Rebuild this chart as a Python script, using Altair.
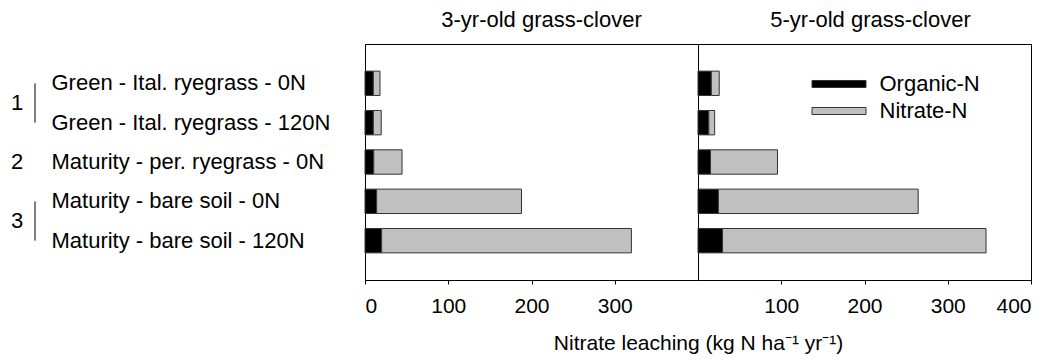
import altair as alt
import pandas as pd

treatments = [
    "Green - Ital. ryegrass - 0N",
    "Green - Ital. ryegrass - 120N",
    "Maturity - per. ryegrass - 0N",
    "Maturity - bare soil - 0N",
    "Maturity - bare soil - 120N",
]
organic_3yr = [10, 10, 10.5, 14, 20]
nitrate_3yr = [8, 9.5, 34, 174, 300]
organic_5yr = [16, 13, 15, 24.5, 29.5]
nitrate_5yr = [9.5, 7, 80.5, 240, 316.5]
components = ["Organic-N", "Nitrate-N"]
colors = ["#000000", "#c0c0c0"]
panel_titles = ["3-yr-old grass-clover", "5-yr-old grass-clover"]
group_labels = ["1", "2", "3"]
group_first = [treatments[0], treatments[2], treatments[3]]
group_last = [treatments[1], treatments[2], treatments[4]]
group_span = [True, False, True]
left_ticks = [0, 100, 200, 300]
right_ticks = [100, 200, 300, 400]
x_title = "Nitrate leaching (kg N ha\u207b\u00b9 yr\u207b\u00b9)"

FONT = "Liberation Sans"
W, H = 333, 236


def make_df(org, nit):
    rows = []
    for t, o, n in zip(treatments, org, nit):
        rows.append({"treatment": t, "component": components[0], "value": o, "ord": 0})
        rows.append({"treatment": t, "component": components[1], "value": n, "ord": 1})
    return pd.DataFrame(rows)


df3 = make_df(organic_3yr, nitrate_3yr)
df5 = make_df(organic_5yr, nitrate_5yr)
gdf = pd.DataFrame({"g": group_labels, "first": group_first, "last": group_last, "span": group_span})

yscale = alt.Scale(domain=treatments, paddingInner=0.38, paddingOuter=0.69)
xscale = alt.Scale(domain=[0, 400], nice=False, zero=True)

legend = alt.Legend(
    title=None, orient="none", legendX=460, legendY=26,
    symbolType="M-2,-0.26L2,-0.26L2,0.26L-2,0.26Z", symbolSize=729,
    symbolStrokeColor="#333333", symbolStrokeWidth=1,
    labelFontSize=22, labelFont=FONT, labelColor="black", labelOffset=26.5,
    rowPadding=2, padding=0,
)


def bars(df, yaxis, xaxis):
    return alt.Chart(df).mark_bar(stroke="#333333", strokeWidth=1).encode(
        y=alt.Y("treatment:N", sort=treatments, scale=yscale, axis=yaxis, title=None),
        x=alt.X("value:Q", stack="zero", scale=xscale, axis=xaxis),
        color=alt.Color("component:N", scale=alt.Scale(domain=components, range=colors), legend=legend),
        order=alt.Order("ord:Q"),
    )


left_yaxis = alt.Axis(
    labelAlign="left", labelPadding=314, ticks=False, domainColor="black",
    labelFontSize=22, labelFont=FONT, labelColor="black", labelLimit=500, grid=False,
)
left_xaxis = alt.Axis(
    values=left_ticks, tickSize=4, tickColor="black", domainColor="black", grid=False,
    labelFontSize=21, labelFont=FONT, labelColor="black", labelPadding=11,
    title=x_title, titleX=W, titleY=69, titleAlign="center", titleBaseline="alphabetic",
    titleFontSize=21, titleFont=FONT, titleFontWeight="normal", titleColor="black",
)
right_xaxis = alt.Axis(
    values=right_ticks, tickSize=4, tickColor="black", domainColor="black", grid=False,
    labelFontSize=21, labelFont=FONT, labelColor="black", labelPadding=11, title=None,
)

left_bars = bars(df3, left_yaxis, left_xaxis)

g_text_mid = alt.Chart(gdf).transform_filter("datum.span").mark_text(
    align="left", baseline="middle", fontSize=22, font=FONT, color="black", dy=19.67
).encode(y=alt.Y("first:N", title=None), x=alt.value(-354), text="g:N")
g_text_one = alt.Chart(gdf).transform_filter("!datum.span").mark_text(
    align="left", baseline="middle", fontSize=22, font=FONT, color="black"
).encode(y=alt.Y("first:N", title=None), x=alt.value(-354), text="g:N")
g_rule = alt.Chart(gdf).transform_filter("datum.span").mark_rule(color="black", strokeWidth=1).encode(
    y=alt.Y("first:N", title=None), y2="last:N", x=alt.value(-330)
)

left = alt.layer(left_bars, g_rule, g_text_mid, g_text_one).properties(
    width=W, height=H,
    title=alt.TitleParams(panel_titles[0], fontSize=22, font=FONT, fontWeight="normal",
                          color="black", offset=12, dx=10),
)
right = bars(df5, None, right_xaxis).properties(
    width=W, height=H,
    title=alt.TitleParams(panel_titles[1], fontSize=22, font=FONT, fontWeight="normal",
                          color="black", offset=12, dx=6),
)

chart = alt.hconcat(left, right, spacing=0, bounds="flush").properties(
    padding={"left": 2, "top": 0, "right": 0, "bottom": 0}
).configure_view(stroke="black", strokeWidth=1).configure_axis(
    domainWidth=1
)

chart.save("out.html", embed_options={"renderer": "svg", "actions": False})
